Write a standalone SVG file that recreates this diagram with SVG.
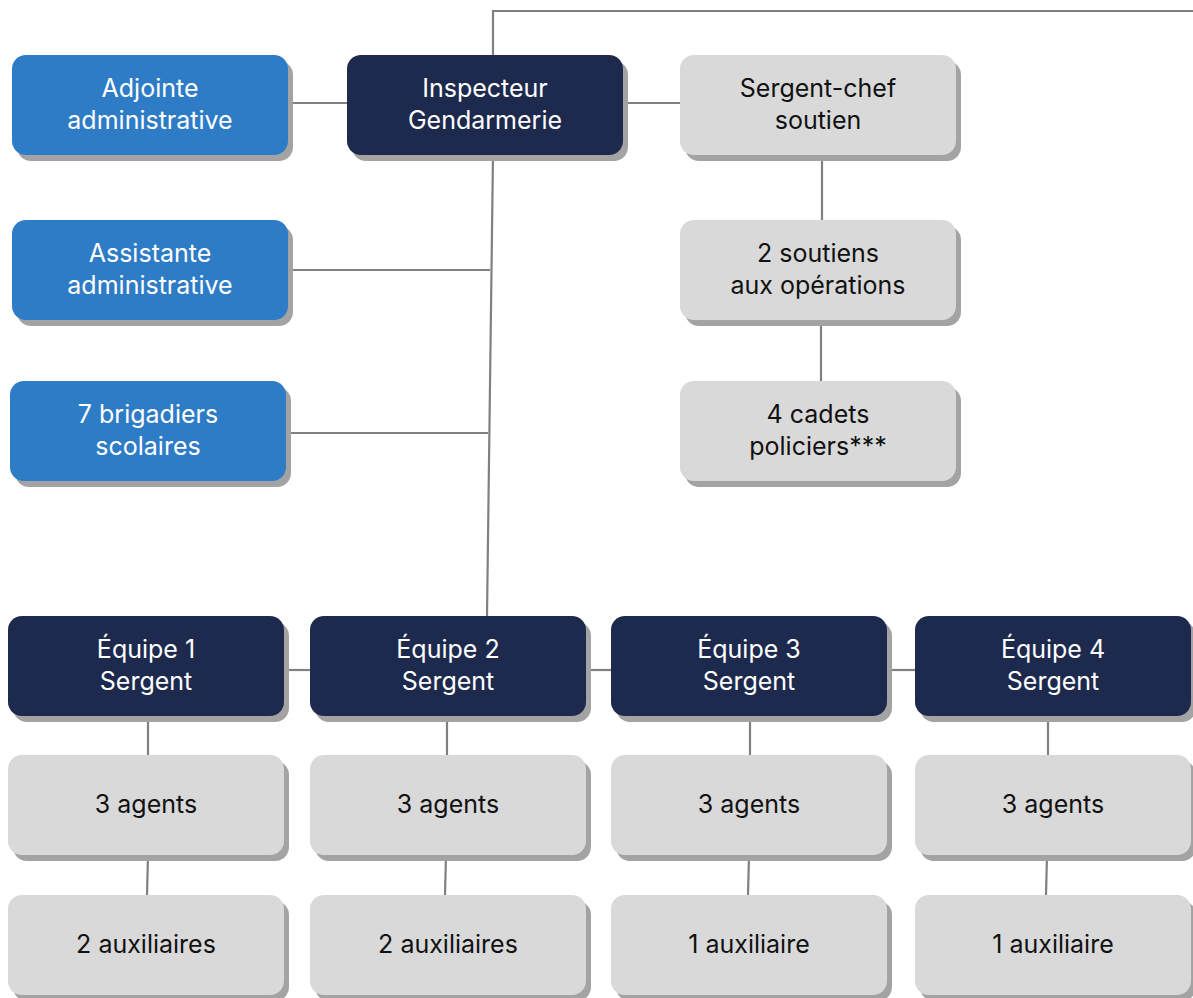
<svg xmlns="http://www.w3.org/2000/svg" width="1193" height="998" viewBox="0 0 1193 998">
<style>
.sh{fill:#a3a3a3}
.blue{fill:#2e7bc6}
.navy{fill:#1e2a4d}
.gray{fill:#d9d9d9}
text{font-family:Inter,"Liberation Sans",sans-serif;font-size:25px;text-anchor:middle}
.w{fill:#ffffff}
.k{fill:#111111}
.c{fill:none;stroke:#808080;stroke-width:2.2}
</style>
<rect width="1193" height="998" fill="#ffffff"/>
<g id="connectors" class="c">
<path d="M288 103H347"/>
<path d="M623 103H680"/>
<path d="M493 55V11H1193"/>
<path d="M493 155L487 616"/>
<path d="M288 270H490"/>
<path d="M286 433H488"/>
<path d="M822 155V220"/>
<path d="M821 320V381"/>
<path d="M284 670H310"/>
<path d="M586 670H611"/>
<path d="M887 670H915"/>
<path d="M1191 670H1193"/>
<path d="M148 716L148 755"/>
<path d="M148 855L147 895"/>
<path d="M447 716L447 755"/>
<path d="M446 855L445 895"/>
<path d="M750 716L750 755"/>
<path d="M749 855L748 895"/>
<path d="M1048 716L1048 755"/>
<path d="M1047 855L1046 895"/>
</g>
<g id="adjointe"><rect class="sh" x="17" y="61" width="276" height="100" rx="14"/><rect class="blue" x="12" y="55" width="276" height="100" rx="14"/><text class="w" x="150" y="97">Adjointe</text><text class="w" x="150" y="129">administrative</text></g>
<g id="assistante"><rect class="sh" x="17" y="226" width="276" height="100" rx="14"/><rect class="blue" x="12" y="220" width="276" height="100" rx="14"/><text class="w" x="150" y="262">Assistante</text><text class="w" x="150" y="294">administrative</text></g>
<g id="brigadiers"><rect class="sh" x="15" y="387" width="276" height="100" rx="14"/><rect class="blue" x="10" y="381" width="276" height="100" rx="14"/><text class="w" x="148" y="423">7 brigadiers</text><text class="w" x="148" y="455">scolaires</text></g>
<g id="inspecteur"><rect class="sh" x="352" y="61" width="276" height="100" rx="14"/><rect class="navy" x="347" y="55" width="276" height="100" rx="14"/><text class="w" x="485" y="97">Inspecteur</text><text class="w" x="485" y="129">Gendarmerie</text></g>
<g id="sergent-chef"><rect class="sh" x="685" y="61" width="276" height="100" rx="14"/><rect class="gray" x="680" y="55" width="276" height="100" rx="14"/><text class="k" x="818" y="97">Sergent-chef</text><text class="k" x="818" y="129">soutien</text></g>
<g id="soutiens"><rect class="sh" x="685" y="226" width="276" height="100" rx="14"/><rect class="gray" x="680" y="220" width="276" height="100" rx="14"/><text class="k" x="818" y="262">2 soutiens</text><text class="k" x="818" y="294">aux opérations</text></g>
<g id="cadets"><rect class="sh" x="685" y="387" width="276" height="100" rx="14"/><rect class="gray" x="680" y="381" width="276" height="100" rx="14"/><text class="k" x="818" y="423">4 cadets</text><text class="k" x="818" y="455">policiers***</text></g>
<g id="equipe1"><rect class="sh" x="13" y="622" width="276" height="100" rx="14"/><rect class="navy" x="8" y="616" width="276" height="100" rx="14"/><text class="w" x="146" y="658">Équipe 1</text><text class="w" x="146" y="690">Sergent</text></g>
<g id="equipe2"><rect class="sh" x="315" y="622" width="276" height="100" rx="14"/><rect class="navy" x="310" y="616" width="276" height="100" rx="14"/><text class="w" x="448" y="658">Équipe 2</text><text class="w" x="448" y="690">Sergent</text></g>
<g id="equipe3"><rect class="sh" x="616" y="622" width="276" height="100" rx="14"/><rect class="navy" x="611" y="616" width="276" height="100" rx="14"/><text class="w" x="749" y="658">Équipe 3</text><text class="w" x="749" y="690">Sergent</text></g>
<g id="equipe4"><rect class="sh" x="920" y="622" width="276" height="100" rx="14"/><rect class="navy" x="915" y="616" width="276" height="100" rx="14"/><text class="w" x="1053" y="658">Équipe 4</text><text class="w" x="1053" y="690">Sergent</text></g>
<g id="agents1"><rect class="sh" x="13" y="761" width="276" height="100" rx="14"/><rect class="gray" x="8" y="755" width="276" height="100" rx="14"/><text class="k" x="146" y="813">3 agents</text></g>
<g id="agents2"><rect class="sh" x="315" y="761" width="276" height="100" rx="14"/><rect class="gray" x="310" y="755" width="276" height="100" rx="14"/><text class="k" x="448" y="813">3 agents</text></g>
<g id="agents3"><rect class="sh" x="616" y="761" width="276" height="100" rx="14"/><rect class="gray" x="611" y="755" width="276" height="100" rx="14"/><text class="k" x="749" y="813">3 agents</text></g>
<g id="agents4"><rect class="sh" x="920" y="761" width="276" height="100" rx="14"/><rect class="gray" x="915" y="755" width="276" height="100" rx="14"/><text class="k" x="1053" y="813">3 agents</text></g>
<g id="aux1"><rect class="sh" x="13" y="901" width="276" height="100" rx="14"/><rect class="gray" x="8" y="895" width="276" height="100" rx="14"/><text class="k" x="146" y="953">2 auxiliaires</text></g>
<g id="aux2"><rect class="sh" x="315" y="901" width="276" height="100" rx="14"/><rect class="gray" x="310" y="895" width="276" height="100" rx="14"/><text class="k" x="448" y="953">2 auxiliaires</text></g>
<g id="aux3"><rect class="sh" x="616" y="901" width="276" height="100" rx="14"/><rect class="gray" x="611" y="895" width="276" height="100" rx="14"/><text class="k" x="749" y="953">1 auxiliaire</text></g>
<g id="aux4"><rect class="sh" x="920" y="901" width="276" height="100" rx="14"/><rect class="gray" x="915" y="895" width="276" height="100" rx="14"/><text class="k" x="1053" y="953">1 auxiliaire</text></g>
</svg>
